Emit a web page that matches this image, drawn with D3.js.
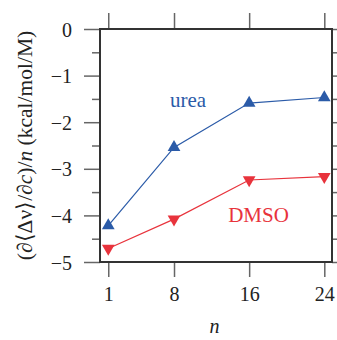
<!DOCTYPE html>
<html>
<head>
<meta charset="utf-8">
<script src="https://cdn.jsdelivr.net/npm/d3@7"></script>
<style>
  html, body { margin: 0; padding: 0; background: #fff; overflow: hidden; }
  svg { display: block; }
  svg, svg text { font-family: "Liberation Serif", "Times New Roman", serif !important; }
</style>
</head>
<body>
<div id="chart"></div>
<script>
// Data
const nValues = [1, 8, 16, 24];
const ureaValues = [-4.22, -2.54, -1.59, -1.47];
const dmsoValues = [-4.71, -4.08, -3.24, -3.17];
const xTicks = [1, 8, 16, 24];
const yTicks = [0, -1, -2, -3, -4, -5];
const yMinorTicks = [-0.5, -1.5, -2.5, -3.5, -4.5];

const width = 337, height = 340;
const margin = { top: 29, right: 5, bottom: 78, left: 100 };
const innerWidth = width - margin.left - margin.right;
const innerHeight = height - margin.top - margin.bottom;

const blue = "#2b5ba8";
const red = "#e8333c";

const svg = d3.select("#chart")
    .append("svg")
    .attr("width", width)
    .attr("height", height)
    .attr("font-family", "Liberation Serif");

const g = svg.append("g")
    .attr("transform", `translate(${margin.left}, ${margin.top})`);

// Scales
const xScale = d3.scaleLinear().domain([0.12, 24.82]).range([0, innerWidth]);
const yScale = d3.scaleLinear().domain([-5, 0]).range([innerHeight, 0]);

const minusFormat = d => d < 0 ? "\u2212" + Math.abs(d) : String(d);

// Bottom axis (ticks + labels)
const xAxis = d3.axisBottom(xScale).tickValues(xTicks).tickSize(15).tickPadding(10);
const xAxisG = g.append("g")
    .attr("transform", `translate(0, ${innerHeight})`)
    .call(xAxis);

// Top axis (ticks only)
const xTopG = g.append("g")
    .call(d3.axisTop(xScale).tickValues(xTicks).tickSize(16).tickFormat(""));

// Left axis (major ticks + labels)
const yAxis = d3.axisLeft(yScale).tickValues(yTicks).tickSize(16).tickPadding(12).tickFormat(minusFormat);
const yAxisG = g.append("g").call(yAxis);

// Left minor ticks
const yMinorG = g.append("g")
    .call(d3.axisLeft(yScale).tickValues(yMinorTicks).tickSize(8).tickFormat(""));

// Right axis ticks (major + minor)
const yRightG = g.append("g")
    .attr("transform", `translate(${innerWidth}, 0)`)
    .call(d3.axisRight(yScale).tickValues(yTicks.concat(yMinorTicks)).tickSize(6).tickFormat(""));

// Tick-only axes carry no labels
[xTopG, yMinorG, yRightG].forEach(a => a.selectAll(".tick text").remove());

// Style the axes
[xAxisG, xTopG, yAxisG, yMinorG, yRightG].forEach(a => {
    a.attr("font-family", null).attr("font-size", null);
    a.select(".domain").remove();
    a.selectAll(".tick line").attr("stroke", "#666").attr("stroke-width", 1.5);
    a.selectAll(".tick text")
        .attr("fill", "#222")
        .style("font-size", "20px");
});
yAxisG.selectAll(".tick text").attr("dy", "0.35em");

// Plot frame
g.append("rect")
    .attr("x", 0)
    .attr("y", 0)
    .attr("width", innerWidth)
    .attr("height", innerHeight)
    .attr("fill", "none")
    .attr("stroke", "#333")
    .attr("stroke-width", 2);

// Line generator
const line = d3.line()
    .x((d, i) => xScale(nValues[i]))
    .y(d => yScale(d));

// Urea series
g.append("path")
    .datum(ureaValues)
    .attr("fill", "none")
    .attr("stroke", blue)
    .attr("stroke-width", 1.2)
    .attr("d", line);

g.selectAll(".urea-pt")
    .data(ureaValues)
    .join("path")
    .attr("class", "urea-pt")
    .attr("transform", (d, i) => `translate(${xScale(nValues[i])}, ${yScale(d)})`)
    .attr("d", d3.symbol().type(d3.symbolTriangle).size(70))
    .attr("fill", blue);

// DMSO series
g.append("path")
    .datum(dmsoValues)
    .attr("fill", "none")
    .attr("stroke", red)
    .attr("stroke-width", 1.2)
    .attr("d", line);

g.selectAll(".dmso-pt")
    .data(dmsoValues)
    .join("path")
    .attr("class", "dmso-pt")
    .attr("transform", (d, i) => `translate(${xScale(nValues[i])}, ${yScale(d)}) rotate(180)`)
    .attr("d", d3.symbol().type(d3.symbolTriangle).size(70))
    .attr("fill", red);

// Series labels
g.append("text")
    .attr("x", xScale(9.5))
    .attr("y", yScale(-1.67))
    .attr("text-anchor", "middle")
    .attr("fill", blue)
    .style("font-size", "21px")
    .text("urea");

g.append("text")
    .attr("x", xScale(17.0))
    .attr("y", yScale(-4.14))
    .attr("text-anchor", "middle")
    .attr("fill", red)
    .style("font-size", "21px")
    .text("DMSO");

// X-axis label
svg.append("text")
    .attr("x", margin.left + xScale(12.3))
    .attr("y", 333)
    .attr("text-anchor", "middle")
    .attr("fill", "#222")
    .style("font-size", "20px")
    .style("font-style", "italic")
    .text("n");

// Y-axis label
const yLabel = svg.append("text")
    .attr("transform", `translate(32, ${margin.top + innerHeight / 2}) rotate(-90)`)
    .attr("text-anchor", "middle")
    .attr("fill", "#222")
    .style("font-size", "21.5px");
yLabel.append("tspan").text("(\u2202\u27E8\u0394\u03BD\u27E9/\u2202");
yLabel.append("tspan").style("font-style", "italic").text("c");
yLabel.append("tspan").text(")/");
yLabel.append("tspan").style("font-style", "italic").text("n");
yLabel.append("tspan").text(" (kcal/mol/M)");
</script>
</body>
</html>
